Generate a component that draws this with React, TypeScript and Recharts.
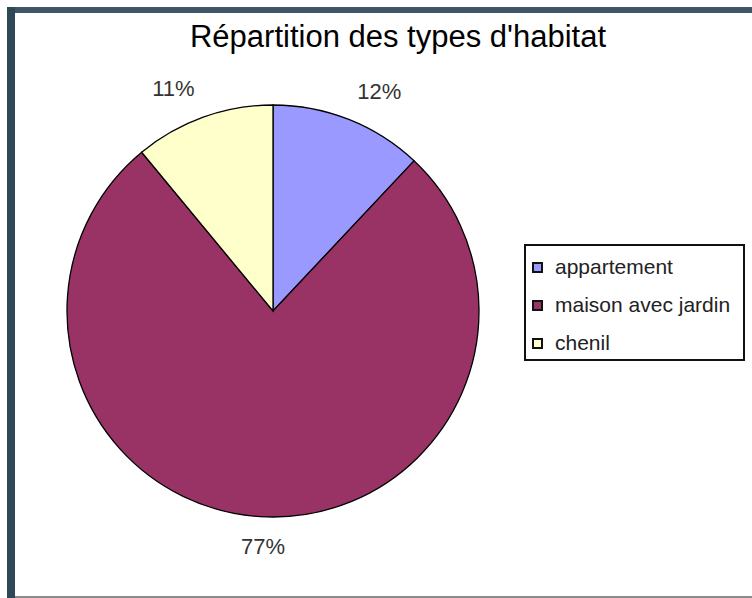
import { PieChart, Pie, Cell, Legend } from 'recharts'

const categories = ['appartement', 'maison avec jardin', 'chenil']
const shares = [12, 77, 11]
const sliceColors = ['#9999FF', '#993366', '#FFFFCC']

const chartTitle = "Répartition des types d'habitat"

const data = categories.map((name, i) => ({ name, value: shares[i] }))

const FONT = '"Liberation Sans", Arial, sans-serif'
const RADIAN = Math.PI / 180

interface LabelProps {
  cx: number
  cy: number
  midAngle: number
  outerRadius: number
  value: number
}

// Excel-style outside labels: pushed out along the radius, then nudged sideways
const renderLabel = ({ cx, cy, midAngle, outerRadius, value }: LabelProps) => {
  const ux = Math.cos(-midAngle * RADIAN)
  const uy = Math.sin(-midAngle * RADIAN)
  const r = outerRadius + 20
  const side = Math.max(-1, Math.min(1, ux * 4))
  const x = cx + r * ux + 23 * side
  const y = cy + r * uy + 10 * uy
  return (
    <text
      x={x}
      y={y}
      textAnchor="middle"
      dominantBaseline="central"
      fill="#333"
      style={{ fontFamily: FONT, fontSize: 22 }}
    >
      {value}%
    </text>
  )
}

const LegendBox = () => (
  <div
    style={{
      width: 221,
      height: 117,
      boxSizing: 'border-box',
      border: '2px solid #111',
      background: '#fff',
      position: 'relative',
      fontFamily: FONT,
    }}
  >
    {categories.map((name, i) => (
      <div
        key={name}
        style={{
          position: 'absolute',
          left: 6,
          top: 2 + i * 38,
          height: 38,
          display: 'flex',
          alignItems: 'center',
          whiteSpace: 'nowrap',
        }}
      >
        <span
          style={{
            width: 11,
            height: 11,
            boxSizing: 'border-box',
            border: '2px solid #111',
            background: sliceColors[i],
            marginRight: 12,
          }}
        />
        <span style={{ fontSize: 21, color: '#222' }}>{name}</span>
      </div>
    ))}
  </div>
)

export default function App() {
  return (
    <div
      style={{
        position: 'fixed',
        left: 0,
        top: 0,
        width: 752,
        height: 598,
        background: '#fff',
        overflow: 'hidden',
      }}
    >
      <div style={{ position: 'absolute', left: 7, top: 7, right: 0, height: 6, background: '#3e5666' }} />
      <div style={{ position: 'absolute', left: 7, top: 7, width: 8, bottom: 0, background: '#2f4858' }} />
      <div style={{ position: 'absolute', left: 15, right: 0, bottom: 0, height: 2, background: '#8a8a8a' }} />

      <div
        style={{
          position: 'absolute',
          left: 398,
          top: 21,
          transform: 'translateX(-50%)',
          whiteSpace: 'nowrap',
          fontFamily: FONT,
          fontSize: 31,
          lineHeight: '31px',
          color: '#000',
        }}
      >
        {chartTitle}
      </div>

      <div style={{ position: 'absolute', left: 0, top: 0 }}>
        <PieChart width={752} height={598} margin={{ top: 0, right: 0, bottom: 0, left: 0 }}>
          <Pie
            data={data}
            dataKey="value"
            nameKey="name"
            cx={273}
            cy={311}
            outerRadius={206}
            startAngle={90}
            endAngle={-270}
            stroke="#000"
            strokeWidth={1.3}
            label={renderLabel}
            labelLine={false}
            isAnimationActive={false}
          >
            {data.map((d, i) => (
              <Cell key={d.name} fill={sliceColors[i]} />
            ))}
          </Pie>
          <Legend
            layout="vertical"
            content={() => <LegendBox />}
            wrapperStyle={{ left: 524, top: 244, width: 221, height: 117 }}
          />
        </PieChart>
      </div>
    </div>
  )
}
